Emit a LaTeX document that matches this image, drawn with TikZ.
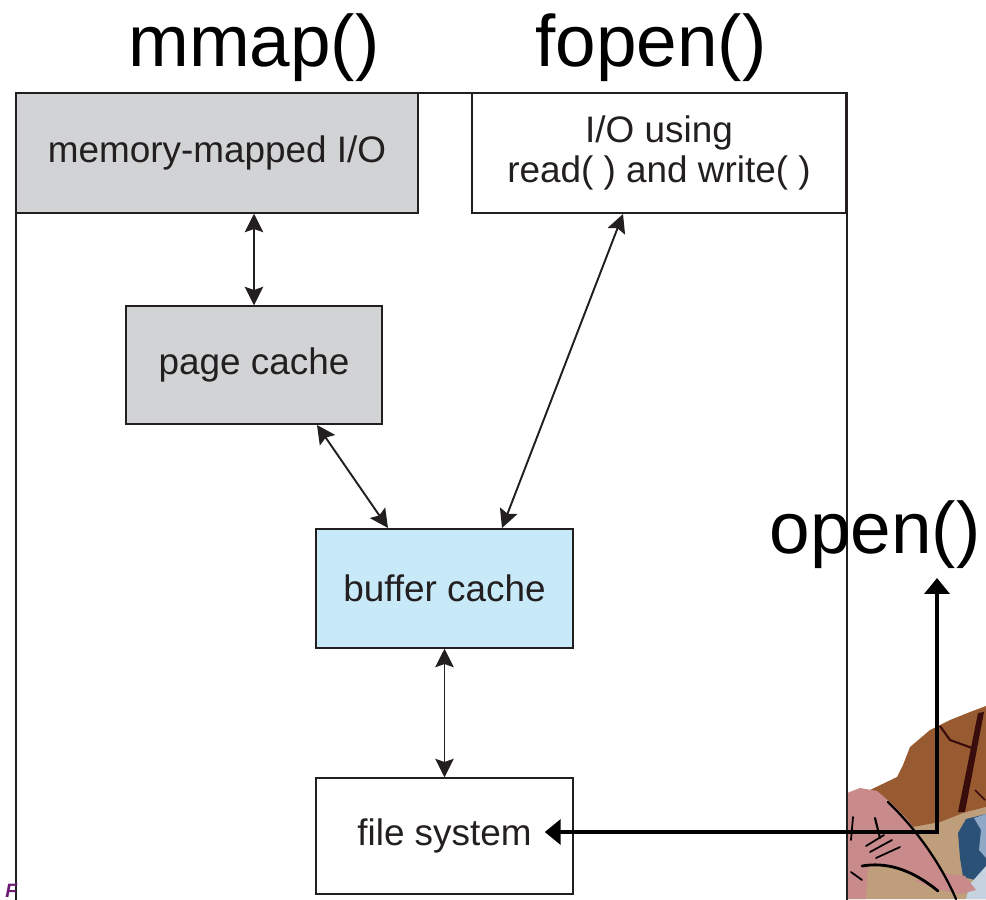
\documentclass[tikz,border=0pt]{standalone}
\usepackage{fontspec}
\setmainfont{Liberation Sans}
\usetikzlibrary{arrows.meta}

\definecolor{ink}{HTML}{231F20}
\definecolor{boxgray}{HTML}{D1D3D4}
\definecolor{boxblue}{HTML}{C8E9F8}
\definecolor{hillbrown}{HTML}{975A31}
\definecolor{sand}{HTML}{BF9F7B}
\definecolor{dinopink}{HTML}{C98A8B}
\definecolor{rockblue}{HTML}{2B5177}
\definecolor{rocklight}{HTML}{8FA8C6}
\definecolor{rockpale}{HTML}{C5D3E1}
\definecolor{trunk}{HTML}{3A0D0D}
\definecolor{footer}{HTML}{6E1A72}

\begin{document}
\begin{tikzpicture}[x=0.02cm,y=-0.02cm,
    box/.style={draw=ink,line width=0.85pt,text=ink,inner sep=0pt,
      align=center,font=\fontsize{21}{23}\selectfont},
    link/.style={ink,line width=1.1pt,
      {Stealth[length=10.5pt,width=10.5pt,inset=1.8pt]}-{Stealth[length=10.5pt,width=10.5pt,inset=1.8pt]}},
    call/.style={anchor=base,font=\fontsize{41.5}{45}\selectfont},
    bigarrow/.style={line width=2.8pt,
      {Triangle[length=9pt,width=14pt]}-{Triangle[length=9pt,width=14pt]}}]
  \useasboundingbox (0,0) rectangle (986,899);
  \clip (0,0) rectangle (986,899);

  % slide background in the corner
  \fill[sand] (847,840) -- (907,827) -- (963,813) -- (986,807) -- (986,899) -- (847,899) -- cycle;
  \fill[hillbrown] (850,802) -- (870,790) -- (897,777) -- (903,765) -- (910,747) -- (930,730)
    -- (950,720) -- (970,712) -- (986,706) -- (986,807) -- (963,813) -- (940,822)
    -- (907,828) -- (880,832) -- cycle;
  \fill[trunk] (958,812) -- (978,713) -- (984,712) -- (965,812) -- cycle;
  \draw[trunk,line width=1.2pt] (940,726) -- (950,740) -- (972,748);
  \draw[trunk,line width=1pt] (975,790) -- (985,800);
  \fill[rockblue] (958,833) -- (966,819) -- (986,814) -- (986,870) -- (975,880) -- (963,877) -- (960,858) -- cycle;
  \fill[rocklight] (974,818) -- (986,814) -- (986,858) -- (979,850) -- (981,830) -- cycle;
  \fill[rockpale] (970,884) -- (986,866) -- (986,899) -- (966,899) -- cycle;
  \fill[dinopink] (847,793) -- (860,788) -- (877,791) -- (890,802) -- (907,819) -- (920,836)
    -- (930,852) -- (940,869) -- (950,887) -- (930,882) -- (905,869) -- (880,864)
    -- (868,868) -- (866,899) -- (847,899) -- cycle;
  \fill[dinopink] (915,881) -- (940,873) -- (965,876) -- (976,890) -- (960,894) -- (935,889) -- cycle;
  \begin{scope}[black,line cap=round]
    \draw[line width=1.3pt] (888,802) .. controls (915,828) and (940,862) .. (956,899);
    \draw[line width=1.6pt] (862,866) .. controls (885,862) and (910,868) .. (938,891);
    \draw[line width=1pt] (853,817) -- (851,840);
    \draw[line width=1.2pt] (875,818) -- (880,838);
    \draw[line width=1pt] (866,846) -- (884,835);
    \draw[line width=1pt] (870,852) -- (892,840);
    \draw[line width=1pt] (876,858) -- (900,847);
    \draw[line width=1pt] (851,872) -- (862,880);
  \end{scope}

  % outer frame
  \filldraw[fill=white,draw=ink,line width=0.7pt] (16,905) |- (847,93) -- (847,905);

  % the boxes
  \node[box,fill=boxgray,minimum width=8.04cm,minimum height=2.4cm] (mmio) at (217,153)
    {memory-mapped I/O};
  \node[box,fill=white,minimum width=7.48cm,minimum height=2.4cm] (rwio) at (659,153)
    {I/O using\\read( ) and write( )};
  \node[box,fill=boxgray,minimum width=5.12cm,minimum height=2.36cm] (pagecache) at (254,365)
    {page cache};
  \node[box,fill=boxblue,minimum width=5.14cm,minimum height=2.38cm] (buffercache) at (444.5,588.5)
    {buffer cache};
  \node[box,fill=white,minimum width=5.14cm,minimum height=2.32cm] (filesystem) at (444.5,836)
    {file system};

  \begin{scope}[link]
    \draw (mmio.south -| pagecache) -- (pagecache.north);
    \draw (317,425) -- (388,528);
    \draw (623,214) -- (502,528);
    \draw (buffercache.south) -- (filesystem.north);
  \end{scope}

  % system calls
  \node[call] (mmaplbl) at (254,66) {mmap()};
  \node[call] (fopenlbl) at (651,66) {fopen()};
  \node[call] (openlbl) at (875,553) {open()};
  \coordinate (opentip) at (937,578);
  \draw[bigarrow] (opentip) |- ([shift={(-29,-4)}]filesystem.east);

  \node[anchor=base west,text=footer,inner sep=0pt,
    font=\bfseries\itshape\fontsize{11}{11}\selectfont] (footmark) at (5,897) {F};
\end{tikzpicture}
\end{document}
